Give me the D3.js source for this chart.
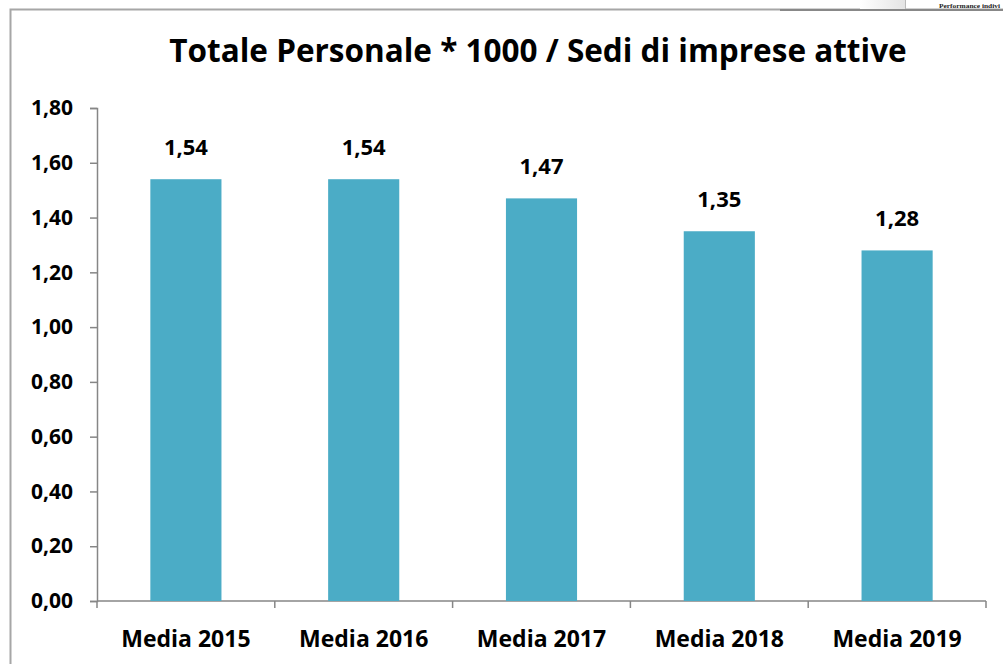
<!DOCTYPE html>
<html>
<head>
<meta charset="utf-8">
<script src="https://cdn.jsdelivr.net/npm/d3@7"></script>
<style>
  html, body { margin: 0; padding: 0; background: #fff; }
  svg { display: block; }
</style>
</head>
<body>
<svg id="chart" width="1003" height="664"></svg>
<script>
// chart data
var categories = ["Media 2015", "Media 2016", "Media 2017", "Media 2018", "Media 2019"];
var values = [1.54, 1.54, 1.47, 1.35, 1.28];
var yTicks = [0, 0.2, 0.4, 0.6, 0.8, 1.0, 1.2, 1.4, 1.6, 1.8];
var title = "Totale Personale * 1000 / Sedi di imprese attive";

var svg = d3.select("#chart");
var font = "'Open Sans', 'DejaVu Sans', sans-serif";
var it = d3.formatLocale({decimal: ",", thousands: ".", grouping: [3], currency: ["€", ""]});
var fmt = it.format(".2f");

var margin = {left: 97, right: 17, top: 108, bottom: 63};
var W = 1003, H = 664;

var x = d3.scaleBand()
    .domain(categories)
    .range([margin.left, W - margin.right])
    .paddingInner(0.6)
    .paddingOuter(0.3);

var y = d3.scaleLinear()
    .domain([0, 1.8])
    .range([H - margin.bottom, margin.top]);

// frame of the chart box
svg.append("path")
    .attr("d", "M10.5," + H + "V9.5H" + W)
    .attr("fill", "none")
    .attr("stroke", "#a6a6a6")
    .attr("stroke-width", 2);

// header bit top right (slide behind the chart)
var grad = svg.append("defs").append("linearGradient")
    .attr("id", "hdr").attr("x1", 0).attr("x2", 1);
grad.append("stop").attr("offset", 0).attr("stop-color", "#ffffff");
grad.append("stop").attr("offset", 1).attr("stop-color", "#e4e4e4");
svg.append("rect")
    .attr("x", 860).attr("y", 0).attr("width", 45).attr("height", 9)
    .attr("fill", "url(#hdr)");
svg.append("line")
    .attr("x1", 905.5).attr("x2", 905.5).attr("y1", 0).attr("y2", 9)
    .attr("stroke", "#bbb");
svg.append("line")
    .attr("x1", 780).attr("x2", W).attr("y1", 10).attr("y2", 10)
    .attr("stroke", "#888").attr("stroke-width", 2);
svg.append("text")
    .attr("x", 939).attr("y", 8)
    .attr("font-family", "'Liberation Serif', serif")
    .attr("font-weight", "bold")
    .attr("font-size", "7px")
    .attr("textLength", 61)
    .attr("lengthAdjust", "spacingAndGlyphs")
    .attr("fill", "#222")
    .text("Performance indivi");

// title
svg.append("text")
    .attr("x", 538)
    .attr("y", 62)
    .attr("text-anchor", "middle")
    .attr("font-family", font)
    .attr("font-weight", "bold")
    .attr("font-size", "31.5px")
    .attr("fill", "#000")
    .text(title);

// y axis
var yAxis = svg.append("g")
    .attr("transform", "translate(" + margin.left + ",0)")
    .call(d3.axisLeft(y).tickValues(yTicks).tickFormat(fmt).tickSize(7).tickPadding(17));
yAxis.selectAll("path, line").attr("stroke", "#868686").attr("stroke-width", 1.5);
yAxis.selectAll("text")
    .attr("font-family", font)
    .attr("font-weight", "bold")
    .attr("font-size", "21px")
    .attr("fill", "#000");

// x axis, ticks at category boundaries
var xAxisY = y(0);
var bounds = categories.map(function(c){ return x(c) - x.step() * x.paddingInner() / 2; });
bounds[0] = margin.left;
bounds.push(W - margin.right);
svg.append("line")
    .attr("x1", margin.left).attr("x2", W - margin.right)
    .attr("y1", xAxisY).attr("y2", xAxisY)
    .attr("stroke", "#868686").attr("stroke-width", 1.5);
svg.selectAll(".xtick")
    .data(bounds)
    .enter().append("line")
    .attr("class", "xtick")
    .attr("x1", function(d){ return d; })
    .attr("x2", function(d){ return d; })
    .attr("y1", xAxisY)
    .attr("y2", xAxisY + 7)
    .attr("stroke", "#868686").attr("stroke-width", 1.5);

svg.selectAll(".xlab")
    .data(categories)
    .enter().append("text")
    .attr("class", "xlab")
    .attr("x", function(d){ return x(d) + x.bandwidth() / 2; })
    .attr("y", xAxisY + 46)
    .attr("text-anchor", "middle")
    .attr("font-family", font)
    .attr("font-weight", "bold")
    .attr("font-size", "23px")
    .attr("fill", "#000")
    .text(function(d){ return d; });

// bars
svg.selectAll(".bar")
    .data(values)
    .enter().append("rect")
    .attr("class", "bar")
    .attr("x", function(d, i){ return x(categories[i]); })
    .attr("y", function(d){ return y(d); })
    .attr("width", x.bandwidth())
    .attr("height", function(d){ return y(0) - y(d); })
    .attr("fill", "#4bacc6");

// value labels
svg.selectAll(".val")
    .data(values)
    .enter().append("text")
    .attr("class", "val")
    .attr("x", function(d, i){ return x(categories[i]) + x.bandwidth() / 2; })
    .attr("y", function(d){ return y(d) - 24; })
    .attr("text-anchor", "middle")
    .attr("font-family", font)
    .attr("font-weight", "bold")
    .attr("font-size", "22px")
    .attr("fill", "#000")
    .text(function(d){ return fmt(d); });
</script>
</body>
</html>
